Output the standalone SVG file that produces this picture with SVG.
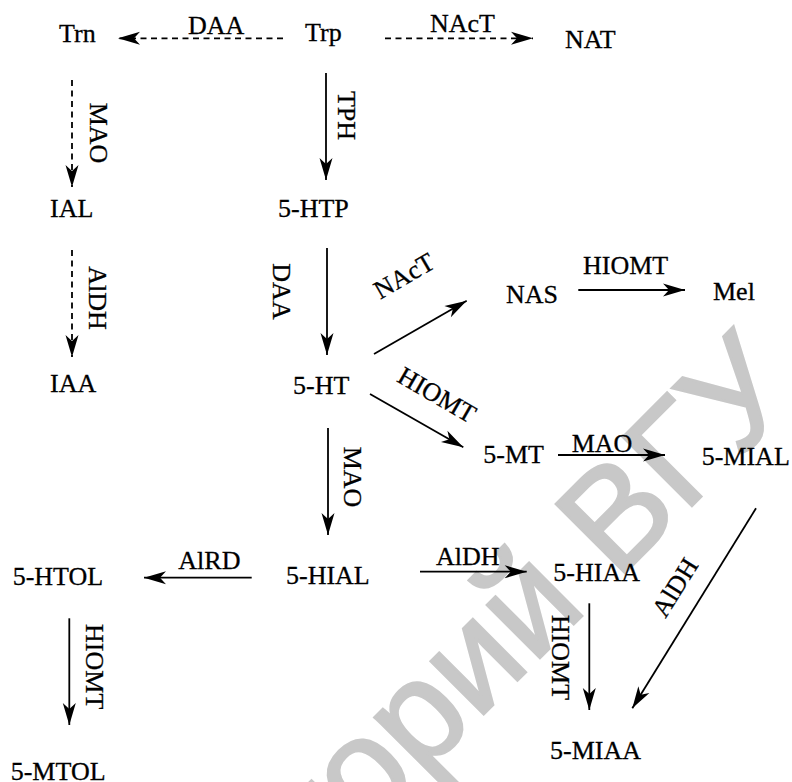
<svg xmlns="http://www.w3.org/2000/svg" width="792" height="782" viewBox="0 0 792 782">
  <style>
    .lbl, .enz { font-family: 'Liberation Serif', 'Times New Roman', serif; font-size: 26px; fill: #000; stroke: #000; stroke-width: 0.3; }
    .solid { stroke: #000; stroke-width: 1.8; fill: none; marker-end: url(#head); }
    .dash { stroke: #000; stroke-width: 1.8; fill: none; stroke-dasharray: 6 4.5; marker-end: url(#head); }
    .wm { font-family: 'Liberation Sans', Arial, sans-serif; font-size: 142px; fill: #c8c8c8; stroke: #c8c8c8; stroke-width: 2.5; }
  </style>
  <defs>
    <marker id="head" markerUnits="userSpaceOnUse" markerWidth="30" markerHeight="20" viewBox="-24 -10 30 20" refX="0" refY="0" orient="auto">
      <path d="M0,0 L-22,-6.5 L-16,0 L-22,6.5 Z" fill="#000"/>
    </marker>
  </defs>
  <rect width="792" height="782" fill="#fff"/>

  <!-- repository watermark -->
  <text class="wm" x="802" y="396" text-anchor="end" transform="rotate(-45 802 396)">Репозиторий ВГУ</text>

  <!-- reaction arrows -->
  <g id="connectors">
    <line class="dash" x1="283" y1="38.3" x2="118" y2="38.3"/>
    <line class="dash" x1="385" y1="38.3" x2="533" y2="38.3"/>
    <line class="dash" x1="72" y1="80" x2="72" y2="187"/>
    <line class="dash" x1="72" y1="250" x2="72" y2="357"/>
    <line class="solid" x1="326" y1="73" x2="326" y2="180"/>
    <line class="solid" x1="327" y1="248" x2="327" y2="355"/>
    <line class="solid" x1="374" y1="354" x2="466.7" y2="300.7"/>
    <line class="solid" x1="370" y1="394" x2="463.3" y2="447.3"/>
    <line class="solid" x1="578.3" y1="290" x2="685" y2="290"/>
    <line class="solid" x1="558" y1="455" x2="665" y2="455"/>
    <line class="solid" x1="328" y1="428" x2="328" y2="535"/>
    <line class="solid" x1="251.7" y1="577.7" x2="144" y2="577.7"/>
    <line class="solid" x1="420" y1="571.7" x2="526.7" y2="571.7"/>
    <line class="solid" x1="69.3" y1="618.3" x2="69.3" y2="725"/>
    <line class="solid" x1="589.3" y1="603.3" x2="589.3" y2="710"/>
    <line class="solid" x1="756" y1="508.3" x2="632.3" y2="708.3"/>

    <!-- enzyme labels -->
    <text class="enz" x="188" y="34">DAA</text>
    <text class="enz" x="430" y="32.3">NAcT</text>
    <text class="enz" x="90" y="133" text-anchor="middle" transform="rotate(90 90 133)">MAO</text>
    <text class="enz" x="88.5" y="298" text-anchor="middle" transform="rotate(90 88.5 298)">AlDH</text>
    <text class="enz" x="338" y="115.5" text-anchor="middle" transform="rotate(90 338 115.5)">TPH</text>
    <text class="enz" x="273" y="291.5" text-anchor="middle" transform="rotate(90 273 291.5)">DAA</text>
    <text class="enz" x="344" y="477" text-anchor="middle" transform="rotate(90 344 477)">MAO</text>
    <text class="enz" x="86" y="666.7" text-anchor="middle" transform="rotate(90 86 666.7)">HIOMT</text>
    <text class="enz" x="551.7" y="657.5" text-anchor="middle" transform="rotate(90 551.7 657.5)">HIOMT</text>
    <text class="enz" x="408.3" y="283.4" text-anchor="middle" transform="rotate(-30 408.3 283.4)">NAcT</text>
    <text class="enz" x="432.7" y="402.4" text-anchor="middle" transform="rotate(30 432.7 402.4)">HIOMT</text>
    <text class="enz" x="682.3" y="592" text-anchor="middle" transform="rotate(-58.3 682.3 592)">AlDH</text>
    <text class="enz" x="583" y="274">HIOMT</text>
    <text class="enz" x="571.7" y="451.7">MAO</text>
    <text class="enz" x="178.3" y="569.3">AlRD</text>
    <text class="enz" x="436" y="565">AlDH</text>
  </g>

  <!-- metabolites -->
  <g id="Trn"><text class="lbl" x="59" y="42">Trn</text></g>
  <g id="Trp"><text class="lbl" x="305" y="41">Trp</text></g>
  <g id="NAT"><text class="lbl" x="565" y="48.3">NAT</text></g>
  <g id="IAL"><text class="lbl" x="50" y="217">IAL</text></g>
  <g id="HTP"><text class="lbl" x="278" y="217">5-HTP</text></g>
  <g id="IAA"><text class="lbl" x="50" y="392">IAA</text></g>
  <g id="HT"><text class="lbl" x="293" y="394">5-HT</text></g>
  <g id="NAS"><text class="lbl" x="506" y="302.7">NAS</text></g>
  <g id="Mel"><text class="lbl" x="713" y="300">Mel</text></g>
  <g id="MT"><text class="lbl" x="483.3" y="463.3">5-MT</text></g>
  <g id="MIAL"><text class="lbl" x="701.7" y="465">5-MIAL</text></g>
  <g id="HTOL"><text class="lbl" x="12.7" y="585">5-HTOL</text></g>
  <g id="HIAL"><text class="lbl" x="286" y="584">5-HIAL</text></g>
  <g id="HIAA"><text class="lbl" x="553.3" y="580.7">5-HIAA</text></g>
  <g id="MIAA"><text class="lbl" x="550" y="759.3">5-MIAA</text></g>
  <g id="MTOL"><text class="lbl" x="10.7" y="779.5">5-MTOL</text></g>
</svg>
